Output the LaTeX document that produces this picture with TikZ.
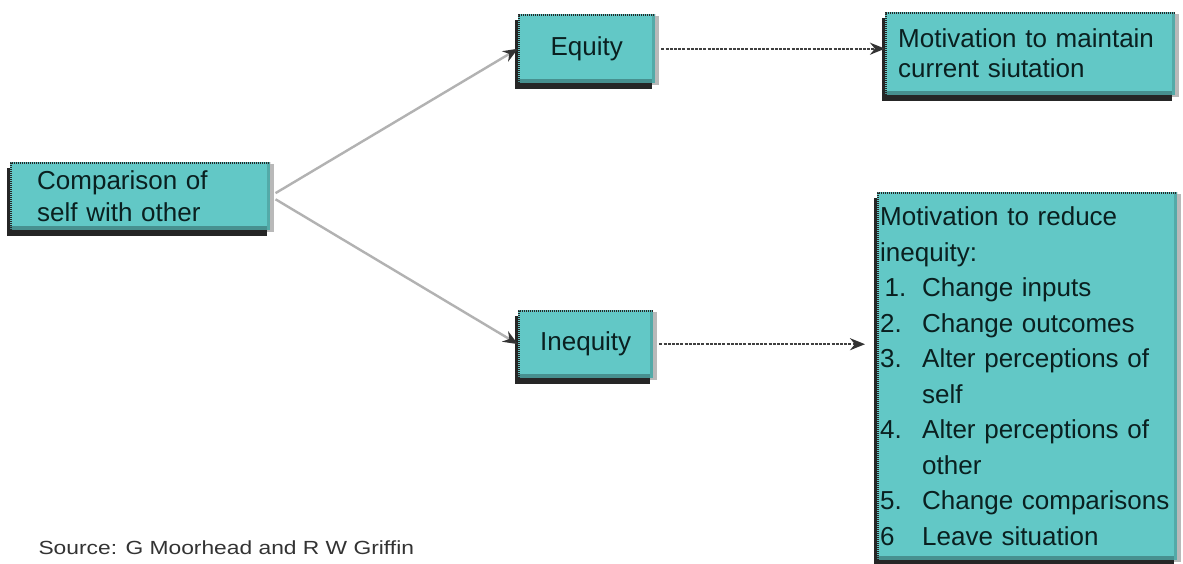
\documentclass[tikz,border=0pt]{standalone}
\usepackage{fontspec}
\setmainfont{Liberation Sans}
\usetikzlibrary{arrows.meta,shadows}
\definecolor{boxfill}{RGB}{98,200,198}
\definecolor{ink}{RGB}{10,32,32}
\tikzset{
  tbox/.style={fill=boxfill, anchor=north west, align=left, text=ink,
    inner ysep=0pt,
    general shadow={fill=gray!55, shadow xshift=4pt, shadow yshift=-2pt},
    general shadow={fill=black!85, shadow xshift=-3pt, shadow yshift=-6pt},
    path picture={
      \fill[boxfill!72!black] ([yshift=4pt]path picture bounding box.south west)
        rectangle (path picture bounding box.south east);
      \fill[boxfill!85!black] ([xshift=-3pt]path picture bounding box.north east)
        rectangle (path picture bounding box.south east);
      \draw[black!85, line width=3pt, dash pattern=on 1.2pt off 0.8pt]
        (path picture bounding box.south west) -- (path picture bounding box.north west)
        -- (path picture bounding box.north east);
    }},
  slant/.style={draw=gray!60, line width=2.4pt, shorten <=6pt,
    -{Stealth[length=15pt,width=12pt,color=black!80]}},
  flat/.style={draw=black!75, line width=2.2pt, dash pattern=on 3pt off 1.2pt,
    shorten <=6pt, -{Stealth[length=15pt,width=12pt,color=black!80]}},
}
\begin{document}
\begin{tikzpicture}[x=1pt,y=-1pt]
\useasboundingbox[fill=white] (0,0) rectangle (1183,563);

% boxes
\node[tbox, minimum width=260pt, minimum height=68pt, inner xsep=27pt,
  text width=206pt, font=\fontsize{26}{32}\selectfont] (cmp) at (10,162)
  {Comparison of\\self with other};
\node[tbox, minimum width=137pt, minimum height=69pt, inner xsep=0pt,
  text width=137pt, align=center, font=\fontsize{26}{30}\selectfont] (eq) at (518,14)
  {Equity};
\node[tbox, minimum width=135pt, minimum height=68pt, inner xsep=0pt,
  text width=135pt, align=center, font=\fontsize{26}{30}\selectfont] (ineq) at (518,310)
  {Inequity};
\node[tbox, minimum width=290pt, minimum height=83pt, inner xsep=13pt,
  text width=264pt, font=\fontsize{26}{30}\selectfont] (keep) at (885,12)
  {Motivation to maintain\\current siutation};
\node[tbox, minimum width=300pt, minimum height=368pt, inner xsep=3pt,
  text width=294pt, font=\fontsize{26}{35.5}\selectfont] (reduce) at (877,192)
  {Motivation to reduce\\
   inequity:\\
   \makebox[42pt][l]{\,1.}Change inputs\\
   \makebox[42pt][l]{2.}Change outcomes\\
   \makebox[42pt][l]{3.}Alter perceptions of\\
   \hspace*{42pt}self\\
   \makebox[42pt][l]{4.}Alter perceptions of\\
   \hspace*{42pt}other\\
   \makebox[42pt][l]{5.}Change comparisons\\
   \makebox[42pt][l]{6}Leave situation};

% connectors
\draw[slant] (cmp.east) -- (eq.west);
\draw[slant] (cmp.east) -- (ineq.west);
\draw[flat] (eq.east) -- (eq.east -| keep.west);
\draw[flat, shorten >=12pt] (ineq.east) -- (ineq.east -| reduce.west);

% source line
\node[anchor=west, text=black!80, font=\fontsize{19}{22}\selectfont] (src) at (35,548)
  {\scalebox{1.2}[1]{Source: G Moorhead and R W Griffin}};
\end{tikzpicture}
\end{document}
